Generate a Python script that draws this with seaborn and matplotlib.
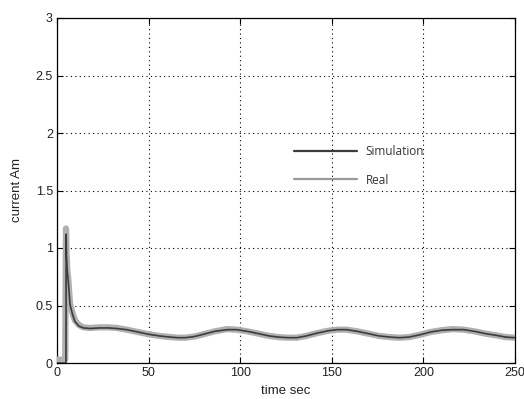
import numpy as np
import pandas as pd
import matplotlib
matplotlib.use("Agg")
import matplotlib.pyplot as plt
import seaborn as sns
from matplotlib.lines import Line2D

t_real = [0, 4.5, 4.9, 5.2, 5.6, 6.2, 7.1, 8.5, 9.8, 12, 14.4, 18, 23.5, 28, 32.6, 38, 44, 50,
          56, 62, 66, 70, 75, 80, 86, 93, 98, 104, 110, 116, 121, 126, 131, 136, 142, 148,
          153, 158, 164, 170, 176, 182, 187, 192, 198, 204, 210, 216, 222, 228, 234, 240, 245, 250]
i_real = [0.03, 0.03, 1.17, 0.95, 0.82, 0.72, 0.52, 0.43, 0.37, 0.33, 0.31, 0.305, 0.31, 0.31,
          0.305, 0.29, 0.27, 0.25, 0.235, 0.225, 0.22, 0.22, 0.23, 0.25, 0.275, 0.295, 0.29,
          0.275, 0.255, 0.235, 0.225, 0.22, 0.22, 0.235, 0.26, 0.28, 0.29, 0.29, 0.275, 0.255,
          0.235, 0.225, 0.22, 0.225, 0.245, 0.27, 0.285, 0.295, 0.29, 0.275, 0.255, 0.24, 0.225, 0.22]

t_sim = [0, 4.9, 5.0, 5.2, 5.6, 6.2, 7.1, 8.5, 9.8, 12, 14.4, 18, 23.5, 28, 32.6, 38, 44, 50,
         56, 62, 66, 70, 75, 80, 86, 93, 98, 104, 110, 116, 121, 126, 131, 136, 142, 148,
         153, 158, 164, 170, 176, 182, 187, 192, 198, 204, 210, 216, 222, 228, 234, 240, 245, 250]
i_sim = [0.0, 0.0, 1.12, 0.93, 0.80, 0.70, 0.51, 0.42, 0.36, 0.32, 0.305, 0.30, 0.305, 0.305,
         0.30, 0.29, 0.27, 0.25, 0.235, 0.225, 0.22, 0.22, 0.23, 0.25, 0.275, 0.29, 0.29,
         0.275, 0.255, 0.235, 0.225, 0.22, 0.22, 0.235, 0.26, 0.28, 0.29, 0.29, 0.275, 0.255,
         0.235, 0.225, 0.22, 0.225, 0.245, 0.27, 0.285, 0.29, 0.29, 0.275, 0.255, 0.24, 0.225, 0.22]

x_ticks = [0, 50, 100, 150, 200, 250]
y_ticks = [0, 0.5, 1, 1.5, 2, 2.5, 3]
y_tick_labels = ["0", "0.5", "1", "1.5", "2", "2.5", "3"]

sns.set_style("white")
plt.rcParams['font.family'] = ['Liberation Sans', 'DejaVu Sans']

fig = plt.figure(figsize=(5.24, 3.99), dpi=100)
ax = fig.add_axes([57/524, 36/399, 458/524, 345/399])

real_color = "#b0b0b0"
sim_color = "#3c3c3c"

sns.lineplot(x=t_real, y=i_real, ax=ax, color=real_color, linewidth=4.5, sort=False,
             estimator=None, zorder=3)
sns.lineplot(x=t_sim, y=i_sim, ax=ax, color=sim_color, linewidth=1.2, sort=False,
             estimator=None, zorder=4)

ax.set_xlim(0, 250)
ax.set_ylim(0, 3)
ax.set_xticks(x_ticks)
ax.set_xticklabels([str(v) for v in x_ticks])
ax.set_yticks(y_ticks)
ax.set_yticklabels(y_tick_labels)
ax.grid(True, color="black", linestyle=(0, (1, 3)), linewidth=0.8)
ax.tick_params(direction="in", length=4, width=0.8, labelsize=9, colors="black",
               labelcolor="#222222",
               top=True, right=True, bottom=True, left=True, pad=3)
for s in ax.spines.values():
    s.set_color("black")
    s.set_linewidth(0.9)

ax.set_xlabel("time sec", fontsize=9.5, labelpad=4, color="#222222")
ax.set_ylabel("current Am", fontsize=9.5, labelpad=9, color="#222222")

handles = [Line2D([0], [0], color=sim_color, linewidth=1.6),
           Line2D([0], [0], color="#999999", linewidth=1.6)]
leg = ax.legend(handles, ["Simulation", "Real"], frameon=False,
                handlelength=5.3, handletextpad=0.75, labelspacing=1.3,
                loc="upper left", bbox_to_anchor=(0.495, 0.662),
                prop={'family': ['Open Sans', 'DejaVu Sans'], 'size': 8.5})
for txt in leg.get_texts():
    txt.set_color("#333333")

fig.savefig("out.png", dpi=100, facecolor="white")
